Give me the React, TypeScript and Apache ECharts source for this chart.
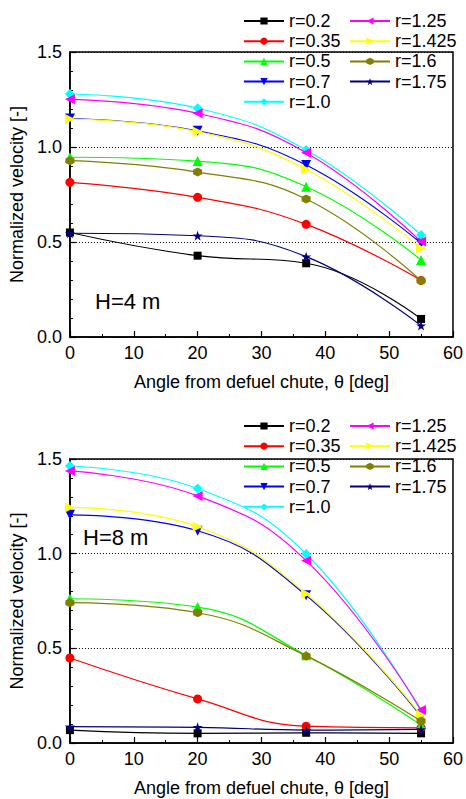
import React, { useEffect, useRef } from "react";
import * as echarts from "echarts";

const angles = [0, 20, 37, 55];
const names = ["r=0.2", "r=0.35", "r=0.5", "r=0.7", "r=1.0", "r=1.25", "r=1.425", "r=1.6", "r=1.75"];
const colors = ["#000000", "#FF0000", "#00FF00", "#0000FF", "#00FFFF", "#FF00FF", "#FFFF00", "#808000", "#000080"];

// H = 4 m
const h4_r020 = [0.55, 0.428, 0.388, 0.095];
const h4_r035 = [0.814, 0.735, 0.593, 0.298];
const h4_r050 = [0.946, 0.926, 0.791, 0.405];
const h4_r070 = [1.15, 1.085, 0.905, 0.493];
const h4_r100 = [1.279, 1.204, 0.984, 0.537];
const h4_r125 = [1.251, 1.177, 0.970, 0.502];
const h4_r1425 = [1.147, 1.081, 0.882, 0.467];
const h4_r160 = [0.928, 0.868, 0.726, 0.296];
const h4_r175 = [0.546, 0.533, 0.423, 0.06];

// H = 8 m
const h8_r020 = [0.068, 0.051, 0.054, 0.051];
const h8_r035 = [0.449, 0.233, 0.089, 0.08];
const h8_r050 = [0.762, 0.718, 0.463, 0.095];
const h8_r070 = [1.205, 1.121, 0.78, 0.14];
const h8_r100 = [1.463, 1.344, 0.998, 0.165];
const h8_r125 = [1.437, 1.305, 0.963, 0.174];
const h8_r1425 = [1.244, 1.142, 0.788, 0.147];
const h8_r160 = [0.741, 0.688, 0.46, 0.116];
const h8_r175 = [0.086, 0.083, 0.068, 0.072];

const h4 = [h4_r020, h4_r035, h4_r050, h4_r070, h4_r100, h4_r125, h4_r1425, h4_r160, h4_r175];
const h8 = [h8_r020, h8_r035, h8_r050, h8_r070, h8_r100, h8_r125, h8_r1425, h8_r160, h8_r175];

const STAR =
  "path://M50,0 L61.8,35.4 L99,35.4 L69,57.3 L80.4,92.7 L50,70.8 L19.6,92.7 L31,57.3 L1,35.4 L38.2,35.4 Z";
const symbols = [
  "rect",
  "circle",
  "triangle",
  "path://M0,0 L10,0 L5,9 Z",
  "diamond",
  "path://M10,0 L10,10 L1,5 Z",
  "path://M0,0 L0,10 L9,5 Z",
  "path://M5,0 L9.33,2.5 L9.33,7.5 L5,10 L0.67,7.5 L0.67,2.5 Z",
  STAR,
];
const symSizes = [8, 9, 10, 10, 10, 10, 10, 9, 10];

const FONT = "'Liberation Sans', Arial, sans-serif";

function axesFor(gi: number) {
  const x = {
    type: "value",
    gridIndex: gi,
    min: 0,
    max: 60,
    interval: 10,
    name: "Angle from defuel chute, θ [deg]",
    nameLocation: "middle",
    nameGap: 36,
    nameTextStyle: { fontSize: 18, color: "#000", fontFamily: FONT },
    axisLine: { show: true, onZero: false, lineStyle: { color: "#000", width: 1.5 } },
    axisTick: { show: true, inside: true, length: 6, lineStyle: { color: "#000", width: 1.2 } },
    minorTick: { show: true, splitNumber: 2, length: 3, lineStyle: { color: "#000", width: 1 } },
    axisLabel: { fontSize: 18, color: "#000", fontFamily: FONT, margin: 7 },
    splitLine: { show: false },
  };
  const y = {
    type: "value",
    gridIndex: gi,
    min: 0,
    max: 1.5,
    interval: 0.5,
    name: "Normalized velocity [-]",
    nameLocation: "middle",
    nameGap: 40,
    nameTextStyle: { fontSize: 18, color: "#000", fontFamily: FONT },
    axisLine: { show: true, onZero: false, lineStyle: { color: "#000", width: 1.5 } },
    axisTick: { show: true, inside: true, length: 6, lineStyle: { color: "#000", width: 1.2 } },
    minorTick: { show: true, splitNumber: 5, length: 3, lineStyle: { color: "#000", width: 1 } },
    axisLabel: {
      fontSize: 18,
      color: "#000",
      fontFamily: FONT,
      margin: 8,
      formatter: (v: number) => v.toFixed(1),
    },
    splitLine: { show: true, lineStyle: { color: "#000", type: [1, 2], width: 1 } },
  };
  return { x, y };
}

function legendsFor(top: number) {
  const common = {
    orient: "vertical",
    top,
    padding: 0,
    itemWidth: 40,
    itemHeight: 9,
    itemGap: 2.2,
    selectedMode: false,
    textStyle: { fontSize: 18, color: "#000", fontFamily: FONT },
  };
  return [
    { ...common, left: 243, data: names.slice(0, 5) },
    { ...common, left: 349, data: names.slice(5) },
  ];
}

export default function App() {
  const ref = useRef<HTMLDivElement>(null);
  useEffect(() => {
    if (!ref.current) return;
    const chart = echarts.init(ref.current, undefined, { renderer: "svg" });
    const a0 = axesFor(0);
    const a1 = axesFor(1);
    const series: any[] = [];
    [h4, h8].forEach((set, gi) => {
      set.forEach((vals, i) => {
        series.push({
          type: "line",
          name: names[i],
          xAxisIndex: gi,
          yAxisIndex: gi,
          data: angles.map((a, k) => [a, vals[k]]),
          smooth: 0.45,
          symbol: symbols[i],
          symbolSize: symSizes[i],
          showAllSymbol: true,
          lineStyle: { color: colors[i], width: 1.2 },
          itemStyle: { color: colors[i] },
          z: 3 + i,
        });
      });
    });
    chart.setOption({
      animation: false,
      backgroundColor: "#fff",
      grid: [
        { left: 68, top: 52, width: 386, height: 285, show: true, borderColor: "#000", borderWidth: 1.5, backgroundColor: "transparent" },
        { left: 68, top: 459, width: 386, height: 284, show: true, borderColor: "#000", borderWidth: 1.5, backgroundColor: "transparent" },
      ],
      xAxis: [a0.x, a1.x],
      yAxis: [a0.y, a1.y],
      legend: [...legendsFor(12), ...legendsFor(417)],
      graphic: [
        { type: "text", left: 95, top: 290, style: { text: "H=4 m", fontSize: 22, fill: "#000", fontFamily: FONT } },
        { type: "text", left: 83, top: 526, style: { text: "H=8 m", fontSize: 22, fill: "#000", fontFamily: FONT } },
      ],
      series,
    });
    return () => chart.dispose();
  }, []);
  return (
    <div
      ref={ref}
      style={{ position: "fixed", left: 0, top: 0, width: 466, height: 799, background: "#fff" }}
    />
  );
}
